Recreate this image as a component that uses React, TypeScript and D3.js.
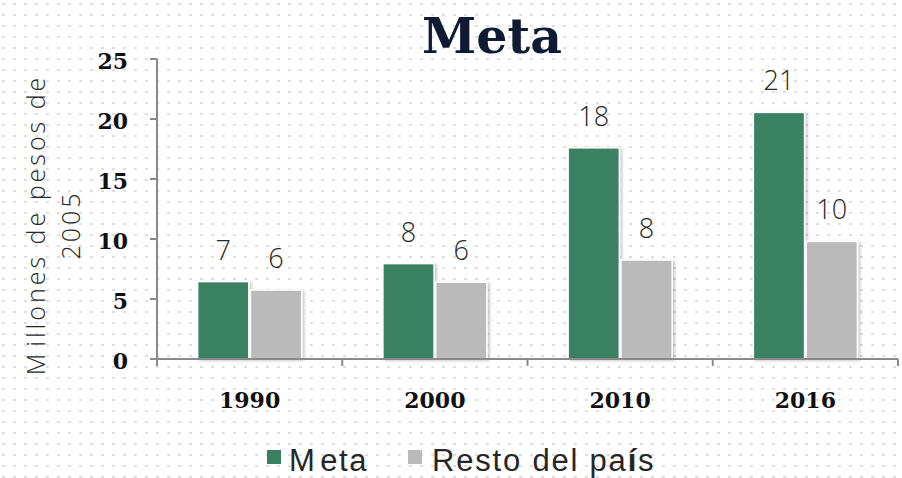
import React from 'react';
import * as d3 from 'd3';

const years = ['1990', '2000', '2010', '2016'];
const seriesKeys = ['meta', 'resto'];
const seriesNames = ['Meta', 'Resto del país'];
const metaValues = [6.45, 7.95, 17.6, 20.55];
const restoValues = [5.75, 6.4, 8.25, 9.8];
const metaLabels = ['7', '8', '18', '21'];
const restoLabels = ['6', '6', '8', '10'];
const yTicks = [0, 5, 10, 15, 20, 25];

const W = 902;
const H = 478;
const colors: Record<string, string> = { meta: '#3a8163', resto: '#bababa' };
const axisColor = '#8a8a8a';
const labelFont = "'Open Sans', 'DejaVu Sans', sans-serif";
const legendFont = "'Liberation Sans', Arial, sans-serif";
const serifFont = "'DejaVu Serif', serif";

export default function App() {
  const y = d3.scaleLinear().domain([0, 25]).range([359, 59]);
  const x0 = d3.scaleBand<string>().domain(years).range([157, 898]);
  const bw = x0.bandwidth();
  const x1 = d3
    .scaleBand<string>()
    .domain(seriesKeys)
    .range([bw / 2 - 52, bw / 2 + 52])
    .paddingInner(0.03);

  const data = years.map((yr, i) => ({
    year: yr,
    values: [
      { key: 'meta', v: metaValues[i], label: metaLabels[i] },
      { key: 'resto', v: restoValues[i], label: restoLabels[i] },
    ],
  }));

  const boundaries = [...years.map((yr) => x0(yr) as number), 898];

  return (
    <svg
      width={W}
      height={H}
      style={{ position: 'absolute', left: 0, top: 0, display: 'block' }}
    >
      <defs>
        <pattern id="dots" width={11} height={11} patternUnits="userSpaceOnUse" x={2} y={3}>
          <rect x={0} y={0} width={3} height={2} fill="#dedede" />
        </pattern>
        <filter id="shadow" x="-20%" y="-20%" width="140%" height="140%">
          <feDropShadow dx={2} dy={1} stdDeviation={1.5} floodColor="#000" floodOpacity={0.22} />
        </filter>
      </defs>
      <rect x={0} y={0} width={W} height={H} fill="#ffffff" />
      <rect x={0} y={0} width={W} height={H} fill="url(#dots)" />

      {/* Title */}
      <text
        x={492}
        y={53}
        textAnchor="middle"
        fontFamily={serifFont}
        fontWeight="bold"
        fontSize={49}
        fill="#0f1a33"
      >
        Meta
      </text>

      {/* Y axis title */}
      <g transform="translate(45,225) rotate(-90)">
        <text
          x={0}
          y={0}
          textAnchor="middle"
          fontFamily={labelFont}
          fontWeight={300}
          fontSize={25}
          letterSpacing={3}
          fill="#262626"
        >
          M<tspan dx={4}>illones de pesos de</tspan>
        </text>
        <text
          x={0}
          y={35}
          textAnchor="middle"
          fontFamily={labelFont}
          fontWeight={300}
          fontSize={25}
          letterSpacing={3}
          fill="#262626"
        >
          2005
        </text>
      </g>

      {/* Bars */}
      {data.map((d) => (
        <g key={d.year} transform={`translate(${x0(d.year)},0)`}>
          {d.values.map((s) => (
            <rect
              key={s.key}
              x={x1(s.key)}
              y={y(s.v)}
              width={x1.bandwidth()}
              height={y(0) - y(s.v)}
              fill={colors[s.key]}
              stroke="#ffffff"
              strokeWidth={1.5}
              filter="url(#shadow)"
            />
          ))}
          {d.values.map((s) => (
            <text
              key={s.key + '-l'}
              x={(x1(s.key) as number) + x1.bandwidth() / 2}
              y={y(s.v) - 22}
              textAnchor="middle"
              fontFamily={labelFont}
              fontWeight={300}
              fontSize={27}
              fill="#262626"
            >
              {s.label}
            </text>
          ))}
        </g>
      ))}

      {/* Y axis */}
      <line x1={157} x2={157} y1={y(25)} y2={366} stroke={axisColor} strokeWidth={2} />
      {yTicks.map((t) => (
        <g key={t}>
          <line x1={150} x2={157} y1={y(t)} y2={y(t)} stroke={axisColor} strokeWidth={2} />
          <text
            x={128}
            y={y(t) + 10}
            textAnchor="end"
            fontFamily={serifFont}
            fontWeight="bold"
            fontSize={22}
            fill="#111"
          >
            {t}
          </text>
        </g>
      ))}

      {/* X axis */}
      <line x1={150} x2={898} y1={y(0)} y2={y(0)} stroke={axisColor} strokeWidth={2} />
      {boundaries.map((b, i) => (
        <line key={i} x1={b} x2={b} y1={y(0)} y2={366} stroke={axisColor} strokeWidth={2} />
      ))}
      {years.map((yr) => (
        <text
          key={yr}
          x={(x0(yr) as number) + bw / 2}
          y={408}
          textAnchor="middle"
          fontFamily={serifFont}
          fontWeight="bold"
          fontSize={22}
          fill="#111"
        >
          {yr}
        </text>
      ))}

      {/* Legend */}
      <rect x={267} y={450} width={14} height={14} fill={colors.meta} />
      <text x={289} y={471} fontFamily={legendFont} fontSize={31} letterSpacing={1.5} fill="#262626">
        M<tspan dx={4}>eta</tspan>
      </text>
      <rect x={408} y={450} width={14} height={14} fill={colors.resto} />
      <text x={432} y={471} fontFamily={legendFont} fontSize={31} letterSpacing={1.8} fill="#262626">
        {seriesNames[1].slice(0, 12)}
        <tspan fontWeight="bold">{seriesNames[1].slice(12, 13)}</tspan>
        {seriesNames[1].slice(13)}
      </text>
    </svg>
  );
}
